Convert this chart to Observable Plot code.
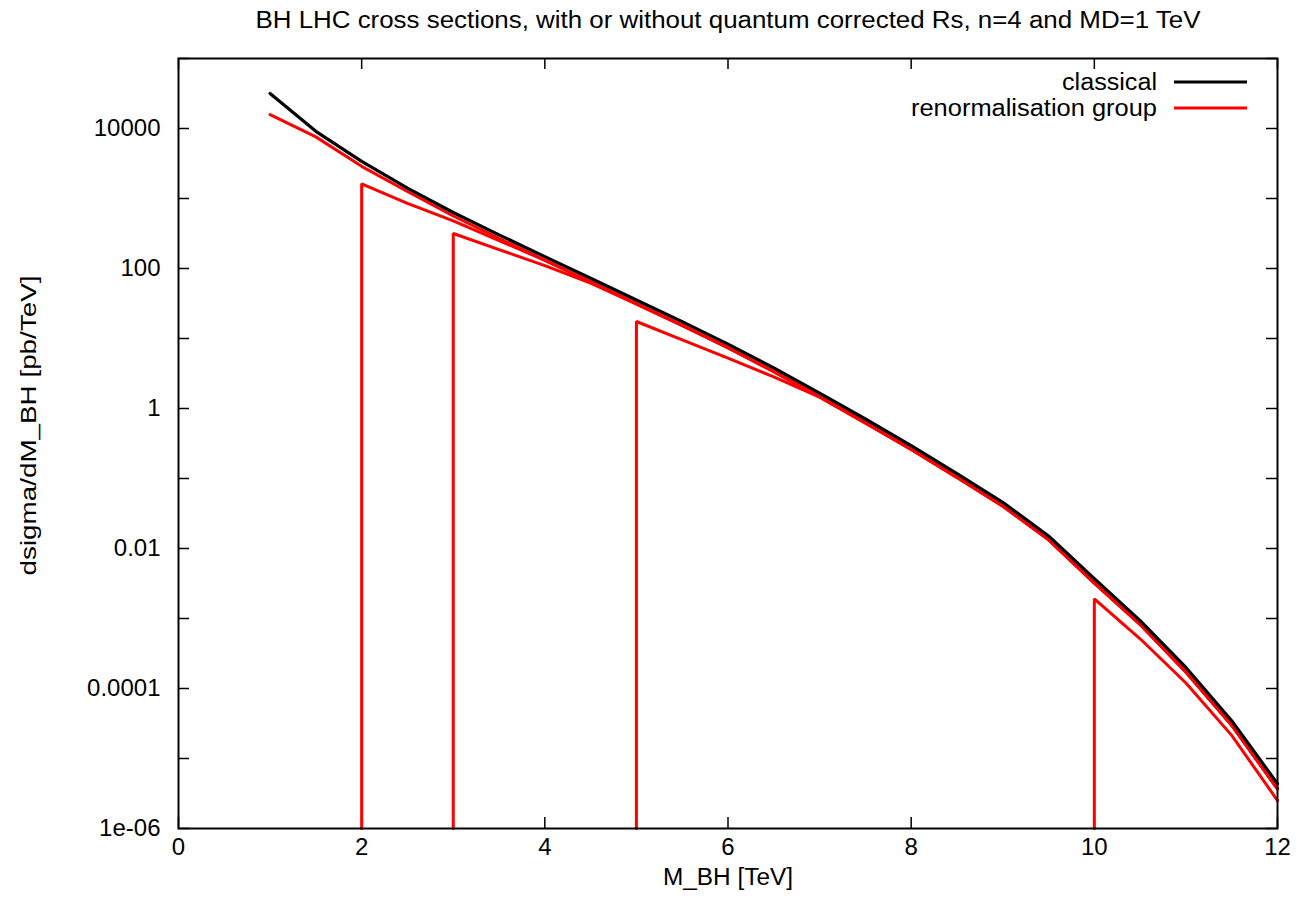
<!DOCTYPE html>
<html><head><meta charset="utf-8">
<script src="https://cdn.jsdelivr.net/npm/d3@7"></script>
<script src="https://cdn.jsdelivr.net/npm/@observablehq/plot@0.6"></script>
<style>body{margin:0;background:#fff}</style>
</head><body><div id="chart"></div>
<script>
// ---- data ----
const titleText = "BH LHC cross sections, with or without quantum corrected Rs, n=4 and MD=1 TeV";
const xLabel = "M_BH [TeV]";
const yLabel = "dsigma/dM_BH [pb/TeV]";
const seriesNames = ["classical", "renormalisation group"];

const xTicks = [0, 2, 4, 6, 8, 10, 12];
const yDecades = [1e-6, 1e-5, 1e-4, 1e-3, 1e-2, 1e-1, 1, 10, 100, 1000, 1e4, 1e5];
const yLabelTicks = [1e-6, 1e-4, 1e-2, 1, 100, 1e4];
const yTickLabels = ["1e-06", "0.0001", "0.01", "1", "100", "10000"];

const massTeV = [1, 1.5, 2, 2.5, 3, 3.5, 4, 4.5, 5, 5.5, 6, 6.5, 7, 7.5, 8, 8.5, 9, 9.5, 10, 10.5, 11, 11.5, 12];
const classical = [31600, 9120, 3390, 1410, 631, 302, 148, 72.4, 35.5, 17.4, 8.32, 3.80, 1.66, 0.708, 0.295, 0.117, 0.0457, 0.0151, 0.00372, 9.33e-4, 2.00e-4, 3.47e-5, 4.37e-6];
const rgMain = [15800, 7590, 2880, 1260, 562, 269, 132, 64.6, 31.6, 15.5, 7.41, 3.39, 1.48, 0.631, 0.263, 0.105, 0.0407, 0.0135, 0.00324, 8.32e-4, 1.74e-4, 3.02e-5, 3.72e-6];

// RG curves with a mass threshold (vertical edge at the threshold)
const rgFrom2Mass = [2, 2, 2.5, 3, 3.5, 4, 4.5, 5, 5.5, 6, 6.5, 7, 7.5, 8, 8.5, 9, 9.5, 10, 10.5, 11, 11.5, 12];
const rgFrom2 = [1e-6, 1620, 851, 479, 251, 131, 64.2, 31.4, 15.4, 7.38, 3.37, 1.47, 0.628, 0.262, 0.104, 0.0405, 0.0134, 0.00322, 8.28e-4, 1.73e-4, 3.00e-5, 3.70e-6];
const rgFrom3Mass = [3, 3, 3.5, 4, 4.5, 5, 5.5, 6, 6.5, 7, 7.5, 8, 8.5, 9, 9.5, 10, 10.5, 11, 11.5, 12];
const rgFrom3 = [1e-6, 316, 186, 110, 61.7, 30.9, 15.3, 7.35, 3.36, 1.47, 0.626, 0.261, 0.104, 0.0404, 0.0134, 0.00321, 8.25e-4, 1.72e-4, 2.99e-5, 3.68e-6];
const rgFrom5Mass = [5, 5, 5.5, 6, 6.5, 7, 7.5, 8, 8.5, 9, 9.5, 10, 10.5, 11, 11.5, 12];
const rgFrom5 = [1e-6, 17.5, 9.55, 5.25, 2.82, 1.45, 0.617, 0.260, 0.103, 0.0402, 0.0133, 0.00320, 8.20e-4, 1.71e-4, 2.97e-5, 3.66e-6];
const rgFrom10Mass = [10, 10, 10.5, 11, 11.5, 12];
const rgFrom10 = [1e-6, 1.91e-3, 5.13e-4, 1.20e-4, 2.14e-5, 2.51e-6];

// ---- build tables ----
const toRows = (xs, ys, id) => xs.map((x, i) => ({x, y: ys[i], id}));
const classicalRows = toRows(massTeV, classical, "classical");
const rgRows = [
  ...toRows(massTeV, rgMain, "rg1"),
  ...toRows(rgFrom2Mass, rgFrom2, "rg2"),
  ...toRows(rgFrom3Mass, rgFrom3, "rg3"),
  ...toRows(rgFrom5Mass, rgFrom5, "rg5"),
  ...toRows(rgFrom10Mass, rgFrom10, "rg10")
];

const W = 1303, H = 909, mL = 178, mR = 26, mT = 58, mB = 81;
const innerW = W - mL - mR, innerH = H - mT - mB, tickLen = 11;
const FONT = "'Liberation Sans', Arial, Helvetica, sans-serif";

const chart = Plot.plot({
  width: W, height: H,
  marginLeft: mL, marginRight: mR, marginTop: mT, marginBottom: mB,
  style: {fontFamily: FONT, fontSize: "24px", background: "white", color: "black", overflow: "visible"},
  x: {domain: [0, 12], ticks: xTicks, tickSize: 0, tickPadding: 9, label: null},
  y: {type: "log", domain: [1e-6, 1e5], ticks: yLabelTicks,
      tickFormat: d => yTickLabels[yLabelTicks.indexOf(d)], tickSize: 0, tickPadding: 18, label: null},
  marks: [
    Plot.ruleX(xTicks, {x: d => d, insetTop: innerH - tickLen, stroke: "black", strokeWidth: 1.5}),
    Plot.ruleX(xTicks, {x: d => d, insetBottom: innerH - tickLen, stroke: "black", strokeWidth: 1.5}),
    Plot.ruleY(yDecades, {y: d => d, insetRight: innerW - tickLen, stroke: "black", strokeWidth: 1.5}),
    Plot.ruleY(yDecades, {y: d => d, insetLeft: innerW - tickLen, stroke: "black", strokeWidth: 1.5}),
    Plot.line(rgRows, {x: "x", y: "y", z: "id", stroke: "#ff0000", strokeWidth: 3, strokeLinejoin: "miter"}),
    Plot.line(classicalRows, {x: "x", y: "y", stroke: "black", strokeWidth: 3.2}),
    Plot.frame({stroke: "black", strokeWidth: 2}),
    Plot.text([titleText], {frameAnchor: "top", lineAnchor: "middle", textAnchor: "middle", dy: -38, fontSize: 23, fill: "black"}),
    Plot.text([xLabel], {frameAnchor: "bottom", lineAnchor: "middle", textAnchor: "middle", dy: 49, fontSize: 23, fill: "black"}),
    Plot.text([yLabel], {frameAnchor: "left", lineAnchor: "middle", textAnchor: "middle", rotate: -90, dx: -150, dy: -18, fontSize: 22, fill: "black"})
  ]
});

document.getElementById("chart").appendChild(chart);

// stretch text widths to those of the reference
const targets = {};
targets[titleText] = 945;
targets[xLabel] = 130;
targets[yLabel] = 300;
d3.select(chart).selectAll("text").each(function() {
  const t = this.textContent;
  if (targets[t]) {
    d3.select(this).attr("textLength", targets[t]).attr("lengthAdjust", "spacingAndGlyphs");
  }
});

// legend (top-right, inside the frame)
const xScale = chart.scale("x"), yScale = chart.scale("y");
const frameRight = xScale.range[1], frameTop = Math.min(...yScale.range);
const legendColors = ["black", "#ff0000"];
const legendWidths = [95, 246];
const lg = d3.select(chart).append("g").attr("font-family", FONT).attr("font-size", 23);
seriesNames.forEach((name, i) => {
  const cy = frameTop + 24 + i * 26;
  lg.append("text").attr("x", frameRight - 120).attr("y", cy).attr("dy", "0.35em")
    .attr("text-anchor", "end").attr("fill", "black")
    .attr("textLength", legendWidths[i]).attr("lengthAdjust", "spacingAndGlyphs").text(name);
  lg.append("line").attr("x1", frameRight - 103).attr("x2", frameRight - 30).attr("y1", cy).attr("y2", cy)
    .attr("stroke", legendColors[i]).attr("stroke-width", 3);
});
</script>
</body></html>
